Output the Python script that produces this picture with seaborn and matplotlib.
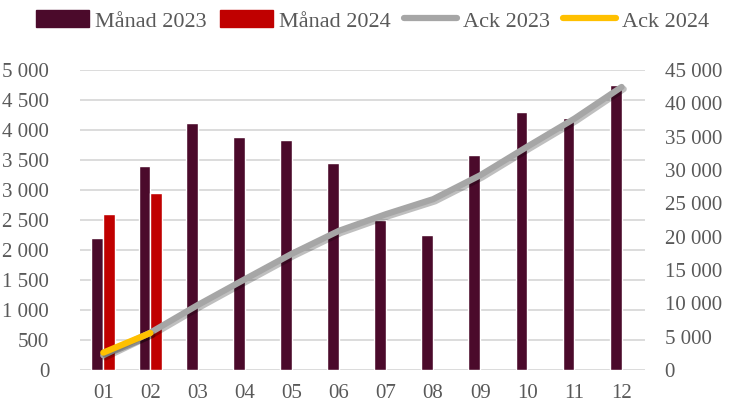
import numpy as np
import pandas as pd
import matplotlib
matplotlib.use('Agg')
import matplotlib.pyplot as plt
import matplotlib.patheffects as pe
from matplotlib.patches import Patch
from matplotlib.lines import Line2D
import seaborn as sns

sns.set_style('white')
plt.rcParams['font.family'] = ['Liberation Serif', 'DejaVu Serif']

months = ['01', '02', '03', '04', '05', '06', '07', '08', '09', '10', '11', '12']
manad_2023 = [2200, 3400, 4120, 3880, 3830, 3450, 2500, 2250, 3590, 4300, 4200, 4750]
manad_2024 = [2600, 2950]
ack_2023 = [2200, 5600, 9720, 13600, 17430, 20880, 23380, 25630, 29220, 33520, 37720, 42470]
ack_2024 = [2600, 5550]

c_2023 = '#4B0A2B'
c_2024 = '#C00000'
c_ack23 = '#A6A6A6'
c_ack24 = '#FFC000'
txt = '#595959'

bars = pd.concat([
    pd.DataFrame({'Månad': months, 'Antal': manad_2023, 'År': 'Månad 2023'}),
    pd.DataFrame({'Månad': months[:len(manad_2024)], 'Antal': manad_2024, 'År': 'Månad 2024'}),
])

fig = plt.figure(figsize=(7.45, 4.03), dpi=100)
ax = fig.add_axes([0.107, 0.082, 0.759, 0.744])
sns.barplot(data=bars, x='Månad', y='Antal', hue='År', order=months,
            palette=[c_2023, c_2024], width=0.5, gap=0.0, ax=ax, legend=False,
            saturation=1)

ax.set_ylim(0, 5000)
ax.set_yticks(np.arange(0, 5001, 500))
ax.set_yticklabels([f'{v:,}'.replace(',', ' ') for v in range(0, 5001, 500)])
ax.set_xlim(-0.5, len(months) - 0.5)
ax.yaxis.grid(True, color='#D9D9D9', lw=1.3)
ax.set_axisbelow(True)
ax.set_xlabel('')
ax.set_ylabel('')
for s in ax.spines.values():
    s.set_visible(False)
ax.tick_params(axis='both', length=0, labelsize=15, labelcolor=txt)
ax.tick_params(axis='x', pad=10)
ax.tick_params(axis='y', pad=22)

ax2 = ax.twinx()
xpos = np.arange(len(months))
shadow = [pe.SimpleLineShadow(offset=(1.5, -1.5), alpha=0.25), pe.Normal()]
sns.lineplot(x=xpos, y=ack_2023, color=c_ack23, lw=4.5, ax=ax2,
             solid_capstyle='round', path_effects=shadow)
sns.lineplot(x=xpos[:len(ack_2024)], y=ack_2024, color=c_ack24, lw=4.5, ax=ax2,
             solid_capstyle='round', path_effects=shadow)
ax2.set_ylim(0, 45000)
ax2.set_yticks(np.arange(0, 45001, 5000))
ax2.set_yticklabels([f'{v:,}'.replace(',', ' ') for v in range(0, 45001, 5000)])
for s in ax2.spines.values():
    s.set_visible(False)
ax2.tick_params(axis='y', length=0, labelsize=15, labelcolor=txt, pad=14)
ax2.set_xlim(-0.5, len(months) - 0.5)

handles = [
    Patch(color=c_2023, label='Månad 2023'),
    Patch(color=c_2024, label='Månad 2024'),
    Line2D([], [], color=c_ack23, lw=4.5, solid_capstyle='round', label='Ack 2023'),
    Line2D([], [], color=c_ack24, lw=4.5, solid_capstyle='round', label='Ack 2024'),
]
fig.legend(handles=handles, loc='center', bbox_to_anchor=(0.5, 0.948), ncol=4,
           frameon=False, fontsize=16, labelcolor=txt, handlelength=2.4,
           handleheight=0.8, handletextpad=0.25, columnspacing=0.6)

fig.savefig('out.png', dpi=100)
